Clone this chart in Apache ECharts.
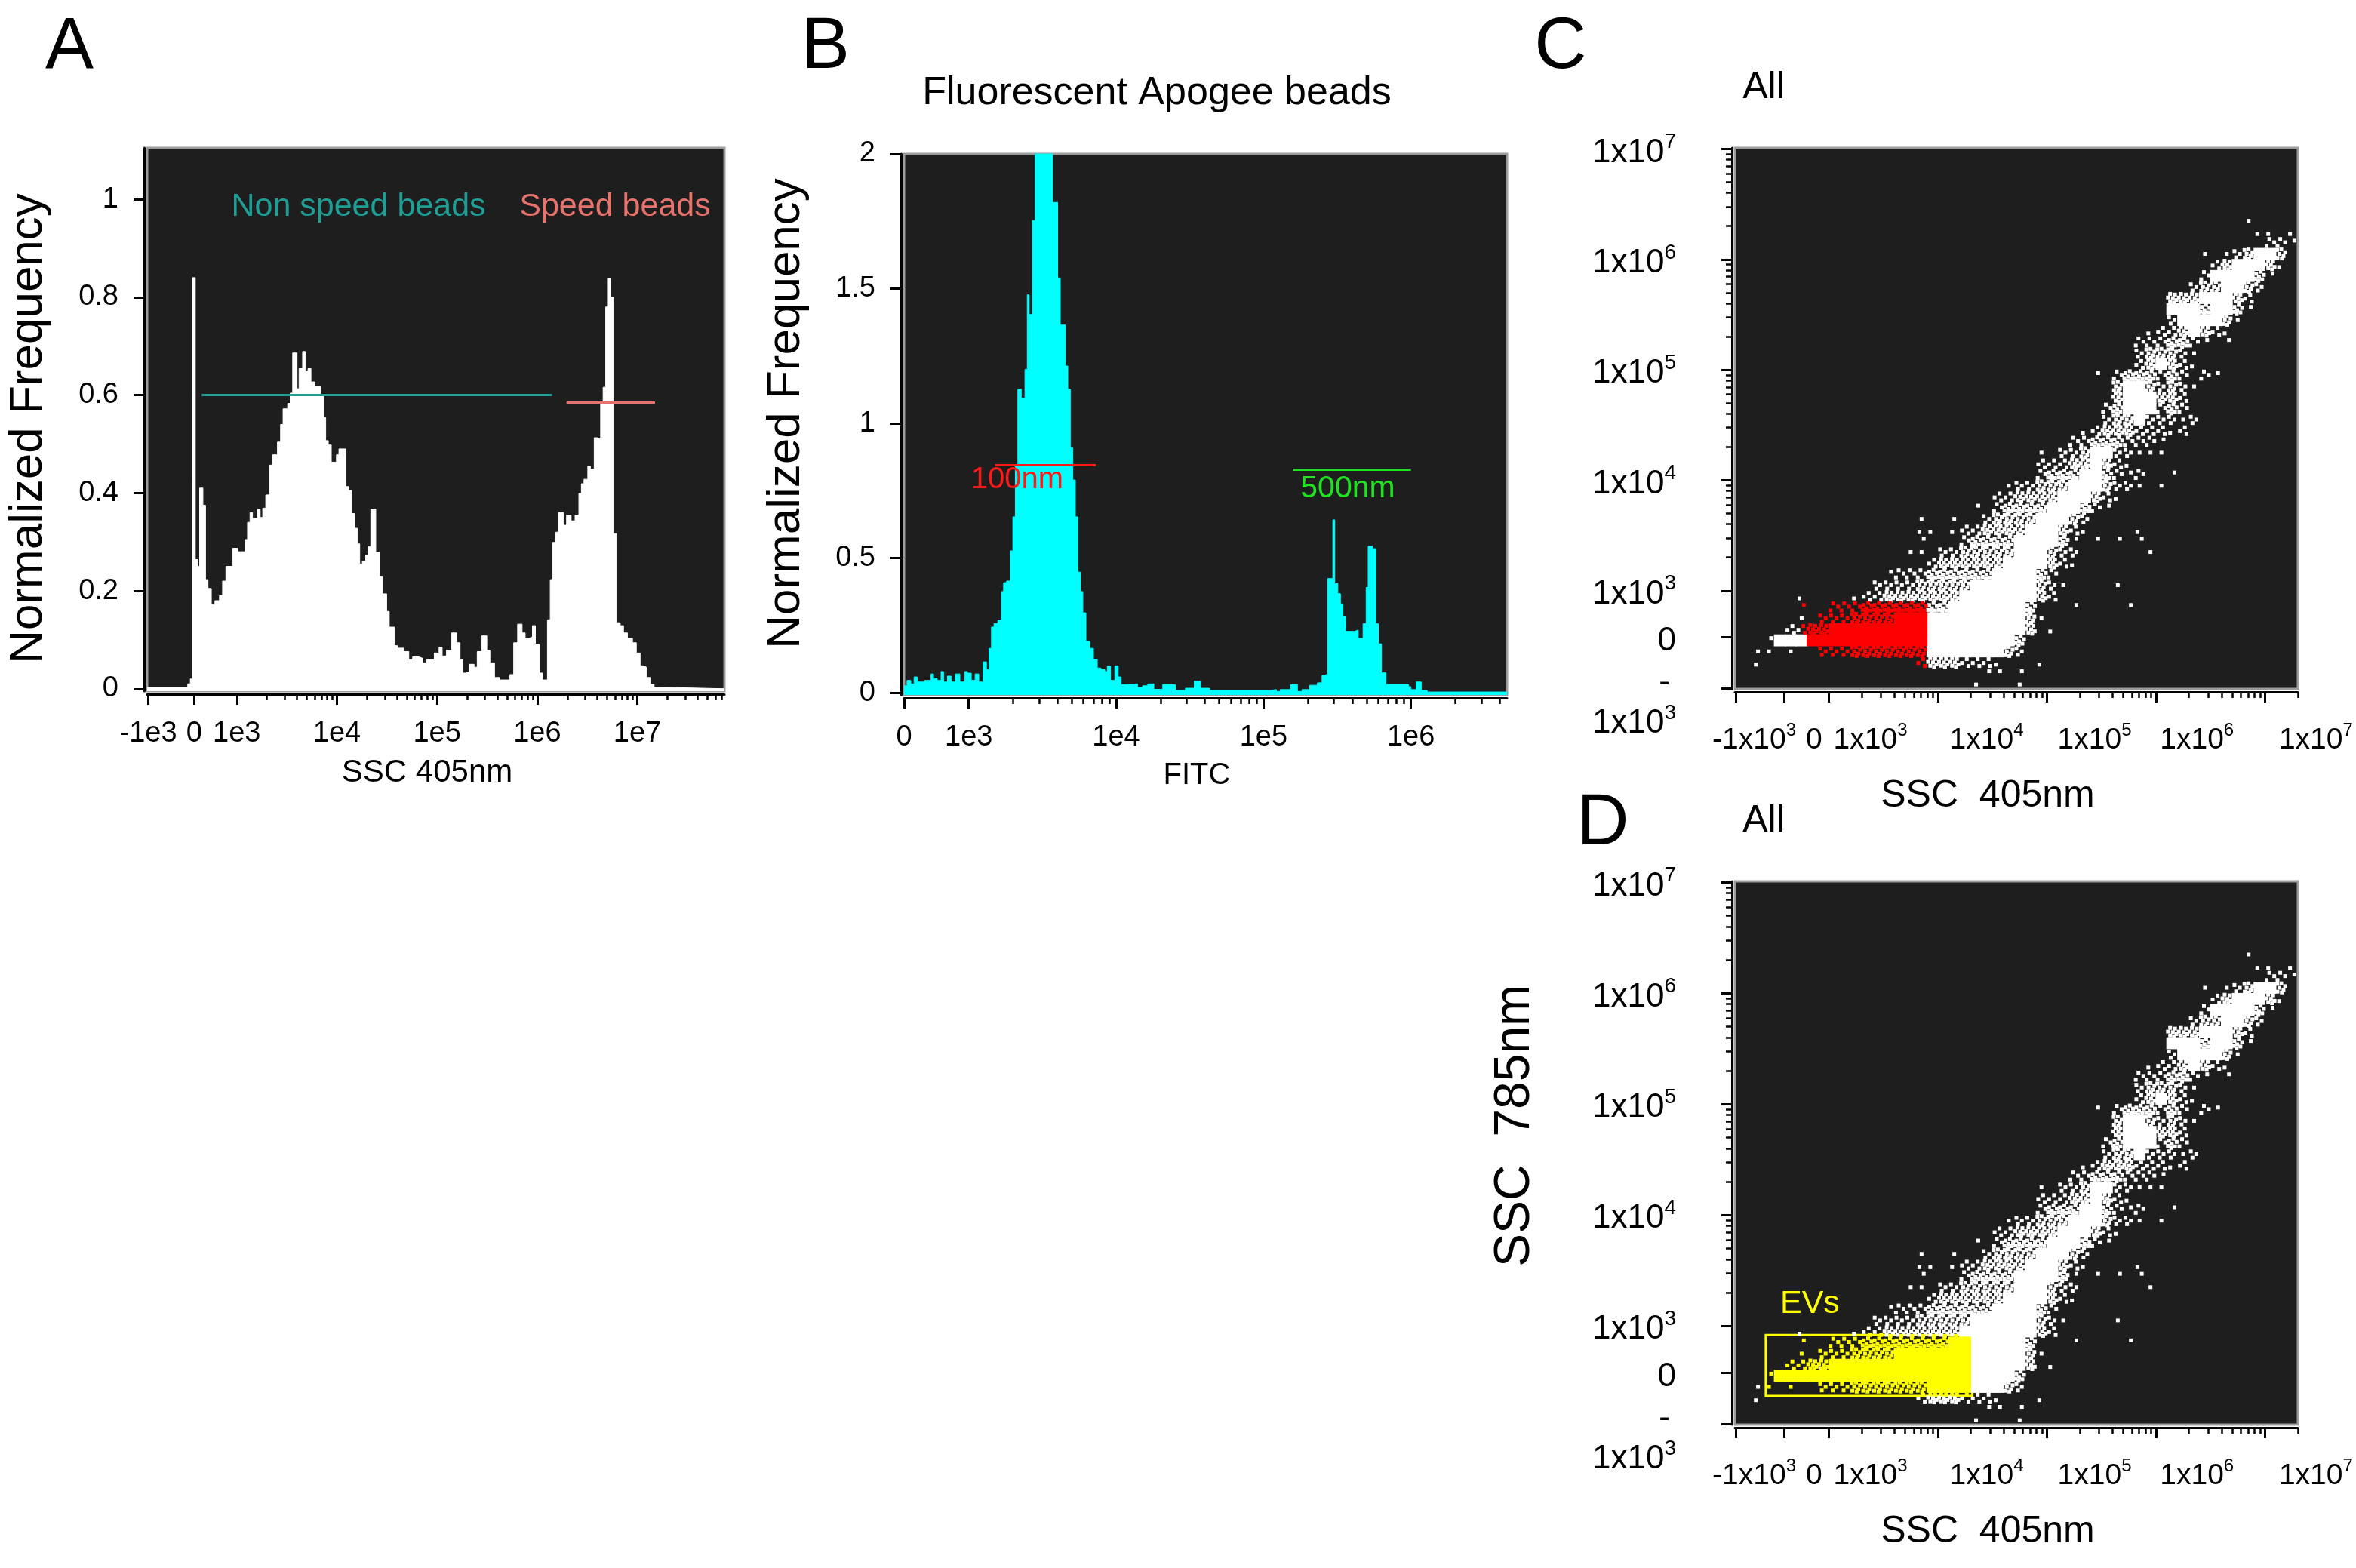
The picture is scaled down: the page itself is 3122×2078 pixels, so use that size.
<!DOCTYPE html>
<html><head><meta charset="utf-8">
<script src="https://cdn.jsdelivr.net/npm/echarts@6/dist/echarts.min.js"></script>
<style>html,body{margin:0;padding:0;background:#fff}#c{width:3122px;height:2078px}</style>
</head><body><div id="c"></div>
<script>
const FONT = "'Liberation Sans', Arial, Helvetica, sans-serif";
const TEAL = '#1f9e95', SALMON = '#e8736d';

// ---------- Panel A : SSC 405nm histogram (x in display decades) ----------
const aBinStart = [2.105,2.510,2.536,2.556,2.586,2.612,2.629,2.662,2.688,2.713,
2.746,2.782,2.827,2.858,2.891,2.959,3.010,3.081,3.107,3.132,
3.157,3.208,3.234,3.259,3.289,3.330,3.360,3.406,3.437,3.462,
3.508,3.533,3.558,3.602,3.622,3.657,3.683,3.711,3.741,3.779,
3.838,3.868,3.888,3.914,3.944,3.995,4.020,4.091,4.117,4.147,
4.178,4.203,4.228,4.254,4.287,4.312,4.338,4.388,4.426,4.452,
4.497,4.523,4.574,4.604,4.668,4.718,4.756,4.820,4.858,4.896,
4.972,5.020,5.051,5.094,5.145,5.196,5.230,5.255,5.288,5.319,
5.370,5.401,5.446,5.497,5.528,5.574,5.625,5.727,5.765,5.804,
5.849,5.880,5.918,5.952,5.982,6.020,6.054,6.102,6.130,6.156,
6.186,6.212,6.263,6.293,6.339,6.378,6.416,6.441,6.467,6.505,
6.531,6.569,6.599,6.633,6.658,6.684,6.709,6.735,6.760,6.791,
6.829,6.862,6.901,6.952,6.990,7.028,7.054,7.092,7.130,7.168,
7.232,7.870];
const aFreq = [0.003,0.010,0.020,0.840,0.264,0.250,0.410,0.375,0.223,0.205,
0.172,0.180,0.190,0.220,0.250,0.287,0.280,0.305,0.340,0.360,
0.348,0.367,0.350,0.369,0.396,0.457,0.478,0.504,0.540,0.572,
0.583,0.604,0.686,0.613,0.654,0.689,0.648,0.654,0.627,0.617,
0.598,0.554,0.507,0.498,0.463,0.478,0.490,0.413,0.405,0.358,
0.328,0.296,0.255,0.261,0.273,0.290,0.367,0.279,0.229,0.194,
0.158,0.126,0.088,0.083,0.076,0.059,0.065,0.062,0.053,0.059,
0.073,0.085,0.067,0.079,0.114,0.094,0.059,0.032,0.035,0.050,
0.044,0.076,0.108,0.079,0.053,0.023,0.018,0.029,0.094,0.132,
0.114,0.103,0.106,0.129,0.091,0.032,0.018,0.141,0.223,0.299,
0.320,0.360,0.334,0.355,0.343,0.355,0.399,0.419,0.428,0.455,
0.449,0.513,0.510,0.584,0.616,0.780,0.839,0.800,0.317,0.135,
0.129,0.114,0.103,0.094,0.073,0.047,0.044,0.023,0.009,0.003,
0.000,0.000];
const aXTickPos = [2.117, 2.574, 3, 4, 5, 6, 7];
const aXTickText = ['-1e3', '0', '1e3', '1e4', '1e5', '1e6', '1e7'];
const aYTickPos = [0, 0.2, 0.4, 0.6, 0.8, 1];
const aYTickText = ['0', '0.2', '0.4', '0.6', '0.8', '1'];
const aGateNames = ['Non speed beads', 'Speed beads'];
const aGateX0 = [2.65, 6.293];
const aGateX1 = [6.148, 7.176];
const aGateY = [0.6, 0.585];

// ---------- Panel B : FITC histogram ----------
const bBinStart = [2.561,2.581,2.607,2.629,2.650,2.701,2.744,2.761,2.786,2.812,
2.829,2.855,2.880,2.909,2.940,2.974,2.991,3.017,3.043,3.068,
3.097,3.120,3.137,3.154,3.171,3.197,3.222,3.236,3.256,3.282,
3.299,3.316,3.333,3.356,3.381,3.397,3.410,3.432,3.450,3.569,
3.603,3.621,3.655,3.672,3.689,3.706,3.723,3.740,3.757,3.774,
3.795,3.821,3.846,3.872,3.897,3.923,3.940,3.962,3.991,4.014,
4.034,4.060,4.145,4.179,4.214,4.256,4.316,4.402,4.470,4.530,
4.573,4.632,5.043,5.087,5.113,5.183,5.230,5.261,5.313,5.365,
5.397,5.417,5.435,5.470,5.483,5.504,5.522,5.539,5.557,5.617,
5.643,5.675,5.696,5.710,5.739,5.762,5.779,5.800,5.831,5.983,
6.000,6.035,6.070,6.110,6.652];
const bFreq = [0.026,0.046,0.033,0.059,0.040,0.046,0.070,0.053,0.046,0.079,
0.040,0.062,0.040,0.070,0.040,0.079,0.073,0.046,0.070,0.040,
0.115,0.086,0.165,0.244,0.257,0.270,0.376,0.409,0.415,0.527,
0.653,0.844,1.127,1.094,1.200,1.477,1.404,1.753,2.050,1.820,
1.540,1.365,1.213,1.127,0.910,0.790,0.653,0.448,0.376,0.297,
0.191,0.165,0.125,0.092,0.086,0.079,0.099,0.046,0.100,0.059,
0.030,0.033,0.020,0.026,0.033,0.013,0.030,0.009,0.017,0.044,
0.017,0.009,0.012,0.005,0.012,0.030,0.005,0.012,0.028,0.037,
0.065,0.070,0.424,0.642,0.405,0.368,0.330,0.284,0.228,0.233,
0.202,0.256,0.391,0.545,0.535,0.256,0.182,0.074,0.031,0.023,
0.012,0.040,0.009,0.003,0.003];
const bXTickPos = [2.561, 3, 4, 5, 6];
const bXTickText = ['0', '1e3', '1e4', '1e5', '1e6'];
const bYTickPos = [0, 0.5, 1, 1.5, 2];
const bYTickText = ['0', '0.5', '1', '1.5', '2'];
const bBeadNames = ['100nm', '500nm'];
const bBeadX0 = [3.179, 5.200];
const bBeadX1 = [3.863, 6.000];
const bBeadY = [0.846, 0.828];
const bBeadColor = ['#ff1a1a', '#22e022'];

// ---------- Panels C / D : SSC 405nm vs SSC 785nm density map ----------
// rows from top (7.0 decades) downward, 0.1-decade cells starting at 2.1 decades on x;
// each row: [first column, density string]  ('.' sparse, ':' few, '+' many, '#' solid)
const scatterRows = [
 [0,""],[0,""],[0,""],[0,""],[0,""],[0,""],
 [47,"."],
 [48,".. ."],
 [49,"::."],
 [43,". .:+##+"],
 [44,":+###+."],
 [43,":####+."],
 [42,":++##+:"],
 [40,"+++###+:"],
 [40,"###+##+."],
 [40,":####+."],
 [38,".::+#+:."],
 [37,":::++:. ."],
 [37,":+++:."],
 [37,":+#+:."],
 [33,". :+++:+: :."],
 [35,"+##+:+:."],
 [35,"+###++:"],
 [34,":+###:+:"],
 [34,":++#:::.:"],
 [32,".:+++:::.:"],
 [31,"::+++:::."],
 [28,". ::+##::..."],
 [28,":::++#+:."],
 [28,":+++##+:.:  ."],
 [25,".::+++###+::. ."],
 [24,"::++++###+:."],
 [22,". :++++###+:."],
 [17,".  .  :++++###+:"],
 [17,".. .::++++###+:.    ."],
 [17,".   :++++####+. . . ."],
 [16,".. ::+++++###+::      ."],
 [18,":++++++####+:."],
 [14,".:::++++++####+:"],
 [13,"::::+++++######+:.    ."],
 [6, ".    .::+++++++#######+:"],
 [6, ".  :::++++++++#######+   .    ."],
 [6, ". :::++++############+."],
 [5, "::++##################+ ."],
 [3, ".######################+"],
 [2, ".. .  :::+++++++#######+:"],
 [2, ".              :+++:::.   ."],
 [23,".. ."],
 [22,".   ."]
];
const mapX0 = 2.1, mapTop = 7.0, mapCell = 0.1;
const cdXTickPos = [2.145, 2.593, 3, 4, 5, 6, 7];
const cdYTickPos = [2.113, 2.577, 3, 4, 5, 6, 7];
const cdXLabelPos = [2.315, 2.863, 3.381, 4.447, 5.437, 6.376, 7.467];
const cdXLabelBase = ['-1x10', '0', '1x10', '1x10', '1x10', '1x10', '1x10'];
const cdXLabelSup = ['3', '', '3', '4', '5', '6', '7'];
const cdYLabelPos = [7, 6, 5, 4, 3, 2.577];
const cdYLabelBase = ['1x10', '1x10', '1x10', '1x10', '1x10', '0'];
const cdYLabelSup = ['7', '6', '5', '4', '3', ''];
const cRedRange = {x0: 2.76, x1: 3.9, rowMin: 41};
const dGate = {x0: 2.421, x1: 4.316, y0: 2.369, y1: 2.919, name: 'EVs', labelX: 2.826, labelY: 3.20};

// ---------- layout ----------
const G = [
  {left:195, top:196, width:765, height:720, x:[2.105,7.87], y:[-0.005,1.105]},
  {left:1198, top:204, width:799, height:717, x:[2.561,6.652], y:[-0.008,2.0]},
  {left:2299, top:196, width:746, height:717, x:[2.138,7.302], y:[2.11,7.01]},
  {left:2299, top:1168, width:746, height:720, x:[2.138,7.302], y:[2.11,7.01]}
];
const LOGK = [2,3,4,5,6,7,8,9].map(k => Math.log10(k));
function decadeMinor(d0, d1, limit) {
  const out = [];
  for (let d = d0; d < d1; d++) LOGK.forEach(l => out.push(d + l));
  LOGK.forEach(l => { if (d1 + l <= limit) out.push(d1 + l); });
  return out;
}
const minorX = [decadeMinor(3,7,7.87), decadeMinor(3,6,6.652), decadeMinor(3,7,7.302), decadeMinor(3,7,7.302)];
const minorY = [[], [], decadeMinor(3,7,0), decadeMinor(3,7,0)];
const majorX = [aXTickPos, bXTickPos, cdXTickPos, cdXTickPos];
const majorY = [aYTickPos, bYTickPos, cdYTickPos, cdYTickPos];
const labX = [aXTickText, bXTickText, null, null];
const labY = [aYTickText, bYTickText, null, null];

function lookup(pos, txt) {
  return function (v) {
    for (let i = 0; i < pos.length; i++) if (Math.abs(pos[i] - v) < 1e-6) return txt[i];
    return '';
  };
}
const AXCOL = '#000';
const grids = [], xAxes = [], yAxes = [];
G.forEach((g, i) => {
  grids.push({left:g.left, top:g.top, width:g.width, height:g.height, show:true,
    backgroundColor:'#1e1e1e', borderColor:'#9c9c9c', borderWidth:3, containLabel:false});
  xAxes.push({type:'value', gridIndex:i, min:g.x[0], max:g.x[1], position:'bottom', offset:4,
    axisLine:{show:true, onZero:false, lineStyle:{color:AXCOL, width:3}},
    axisTick:{show:true, customValues:majorX[i], length:14, lineStyle:{color:AXCOL, width:3}},
    axisLabel: labX[i] ? {show:true, customValues:majorX[i], formatter:lookup(majorX[i], labX[i]),
      fontSize:38, fontFamily:FONT, color:'#000', margin:34} : {show:false},
    splitLine:{show:false}});
  xAxes.push({type:'value', gridIndex:i, min:g.x[0], max:g.x[1], position:'bottom', offset:4,
    axisLine:{show:false, onZero:false},
    axisTick:{show:true, customValues:minorX[i], length:8, lineStyle:{color:AXCOL, width:2.5}},
    axisLabel:{show:false}, splitLine:{show:false}});
  yAxes.push({type:'value', gridIndex:i, min:g.y[0], max:g.y[1], position:'left', offset:4,
    axisLine:{show:true, onZero:false, lineStyle:{color:AXCOL, width:3}},
    axisTick:{show:true, customValues:majorY[i], length:14, lineStyle:{color:AXCOL, width:3}},
    axisLabel: labY[i] ? {show:true, customValues:majorY[i], formatter:lookup(majorY[i], labY[i]),
      fontSize:38, fontFamily:FONT, color:'#000', margin:34} : {show:false},
    splitLine:{show:false}});
  yAxes.push({type:'value', gridIndex:i, min:g.y[0], max:g.y[1], position:'left', offset:4,
    axisLine:{show:false, onZero:false},
    axisTick: minorY[i].length ? {show:true, customValues:minorY[i], length:8, lineStyle:{color:AXCOL, width:2.5}} : {show:false},
    axisLabel:{show:false}, splitLine:{show:false}});
});

// density map -> points
const PAT = {
  '.': [[[0.5,0.5]], [[0.3,0.7]], [[0.7,0.3]]],
  ':': [[[0.2,0.25],[0.7,0.5],[0.35,0.82]], [[0.65,0.2],[0.2,0.55],[0.8,0.82]], [[0.4,0.15],[0.85,0.45],[0.15,0.8]]],
  '+': [[[0.12,0.15],[0.5,0.1],[0.85,0.35],[0.32,0.5],[0.7,0.7],[0.15,0.85],[0.55,0.92]],
        [[0.3,0.12],[0.75,0.18],[0.1,0.45],[0.55,0.5],[0.88,0.68],[0.3,0.8],[0.65,0.9]],
        [[0.2,0.3],[0.6,0.12],[0.9,0.4],[0.45,0.6],[0.1,0.75],[0.75,0.8],[0.4,0.95]]]
};
function buildMap(isColored) {
  const res = {wb:[], wd:[], cb:[], cd:[]};
  scatterRows.forEach((row, r) => {
    const start = row[0], s = row[1];
    for (let i = 0; i < s.length; i++) {
      const ch = s[i];
      if (ch === ' ') continue;
      const c = start + i;
      const x0 = mapX0 + c * mapCell, yTop = mapTop - r * mapCell;
      if (ch === '#') {
        const pt = [x0 + mapCell / 2, yTop - mapCell / 2];
        (isColored(pt, c, r) ? res.cb : res.wb).push(pt);
      } else {
        const pat = PAT[ch][(r * 7 + c * 3) % 3];
        pat.forEach(f => {
          const pt = [x0 + f[0] * mapCell, yTop - f[1] * mapCell];
          (isColored(pt, c, r) ? res.cd : res.wd).push(pt);
        });
      }
    }
  });
  return res;
}
const mapC = buildMap((pt, c, r) => pt[0] >= cRedRange.x0 && pt[0] <= cRedRange.x1 && r >= cRedRange.rowMin);
const mapD = buildMap(pt => pt[0] >= dGate.x0 && pt[0] <= dGate.x1 && pt[1] >= dGate.y0 && pt[1] <= dGate.y1);

const BLOCK = [15.8, 15.8], DOT = 5;
function mapSeries(m, gi, color, extra) {
  const base = {type:'scatter', xAxisIndex:gi*2, yAxisIndex:gi*2, symbol:'rect', silent:true, animation:false, clip:true, large:false};
  return [
    Object.assign({}, base, {data:m.wb, symbolSize:BLOCK, itemStyle:{color:'#ffffff', opacity:1}}),
    Object.assign({}, base, {data:m.wd, symbolSize:DOT, itemStyle:{color:'#ffffff', opacity:1}}),
    Object.assign({}, base, {data:m.cb, symbolSize:BLOCK, itemStyle:{color:color, opacity:1}}),
    Object.assign({}, base, {data:m.cd, symbolSize:DOT, itemStyle:{color:color, opacity:1}}, extra || {})
  ];
}

const series = [
  {type:'line', xAxisIndex:0, yAxisIndex:0, step:'end', symbol:'none', silent:true,
   data:aBinStart.map((x, i) => [x, aFreq[i]]),
   lineStyle:{color:'#fff', width:1}, areaStyle:{color:'#fff', opacity:1, origin:'start'},
   markLine:{silent:true, symbol:['none','none'], label:{show:false}, animation:false,
     data:aGateX0.map((x, i) => [
       {coord:[x, aGateY[i]], lineStyle:{color:i ? SALMON : TEAL, width:3, type:'solid'}},
       {coord:[aGateX1[i], aGateY[i]], lineStyle:{color:i ? SALMON : TEAL, width:3, type:'solid'}}])}},
  {type:'line', xAxisIndex:2, yAxisIndex:2, step:'end', symbol:'none', silent:true,
   data:bBinStart.map((x, i) => [x, bFreq[i]]),
   lineStyle:{color:'#00ffff', width:1}, areaStyle:{color:'#00ffff', opacity:1, origin:'start'},
   markLine:{silent:true, symbol:['none','none'], label:{show:false}, animation:false,
     data:bBeadX0.map((x, i) => [
       {coord:[x, bBeadY[i]], lineStyle:{color:bBeadColor[i], width:3, type:'solid'}},
       {coord:[bBeadX1[i], bBeadY[i]], lineStyle:{color:bBeadColor[i], width:3, type:'solid'}}])}}
].concat(mapSeries(mapC, 2, '#ff0000'))
 .concat(mapSeries(mapD, 3, '#ffff00', {
   markArea:{silent:true, itemStyle:{color:'rgba(0,0,0,0)', borderColor:'#ffff00', borderWidth:3, opacity:1},
     data:[[{coord:[dGate.x0, dGate.y1]}, {coord:[dGate.x1, dGate.y0]}]]}}));

const chart = echarts.init(document.getElementById('c'), null, {width:3122, height:2078});
chart.setOption({animation:false, backgroundColor:'#ffffff', grid:grids, xAxis:xAxes, yAxis:yAxes, series:series});

// ---------- text ----------
function T(x, y, text, size, o) {
  o = o || {};
  return {type:'text', x:x, y:y, rotation:o.rot || 0, z:100, silent:true,
    style:{text:text, fontSize:size, fontFamily:FONT, fill:o.color || '#000',
      align:o.align || 'center', verticalAlign:o.va || 'middle', rich:o.rich}};
}
function supText(x, y, base, sup, size, supSize, align) {
  const txt = sup ? '{b|' + base + '}{s|' + sup + '}' : '{b|' + base + '}';
  return T(x, y, txt, size, {align:align, rich:{
    b:{fontSize:size, fontFamily:FONT, fill:'#000', lineHeight:Math.round(size * 1.28)},
    s:{fontSize:supSize, fontFamily:FONT, fill:'#000', verticalAlign:'top'}}});
}
function px(gi, x, y) { return chart.convertToPixel({xAxisIndex:gi * 2, yAxisIndex:gi * 2}, [x, y]); }

const gr = [];
gr.push(T(92, 64, 'A', 96), T(1094, 64, 'B', 96), T(2068, 64, 'C', 96), T(2124, 1093, 'D', 96));
gr.push(T(1533, 124, 'Fluorescent Apogee beads', 52));
gr.push(T(38, 568, 'Normalized Frequency', 62, {rot:Math.PI / 2}));
gr.push(T(1042, 548, 'Normalized Frequency', 62, {rot:Math.PI / 2}));
gr.push(T(566, 1024, 'SSC 405nm', 42));
gr.push(T(1586, 1028, 'FITC', 40));
gr.push(T(475, 274, aGateNames[0], 43, {color:TEAL}));
gr.push(T(815, 274, aGateNames[1], 43, {color:SALMON}));
gr.push(T(1348, 636, bBeadNames[0], 40, {color:bBeadColor[0]}));
gr.push(T(1786, 648, bBeadNames[1], 41, {color:bBeadColor[1]}));
[2, 3].forEach((gi) => {
  const g = G[gi];
  const bottom = g.top + g.height;
  gr.push(T(g.left + 38, g.top - 80, 'All', 50));
  gr.push(T(g.left + 335, bottom + 142, 'SSC  405nm', 50));
  cdXLabelPos.forEach((p, i) => {
    const x = px(gi, p, g.y[0])[0];
    gr.push(supText(x, bottom + 68, cdXLabelBase[i], cdXLabelSup[i], 39, 24, 'center'));
  });
  cdYLabelPos.forEach((q, i) => {
    const y = px(gi, g.x[0], q)[1];
    gr.push(supText(g.left - 78, y + 5, cdYLabelBase[i], cdYLabelSup[i], 44, 28, 'right'));
  });
  gr.push(T(g.left - 86, bottom - 8, '-', 44, {align:'right'}));
  gr.push(supText(g.left - 78, bottom + 46, '1x10', '3', 44, 28, 'right'));
});
gr.push(T(2008, 1492, 'SSC  785nm', 66, {rot:Math.PI / 2}));
const ev = px(3, dGate.labelX, dGate.labelY);
gr.push(T(ev[0], ev[1], dGate.name, 43, {color:'#ffff00'}));
chart.setOption({graphic:gr});
</script>
</body></html>
